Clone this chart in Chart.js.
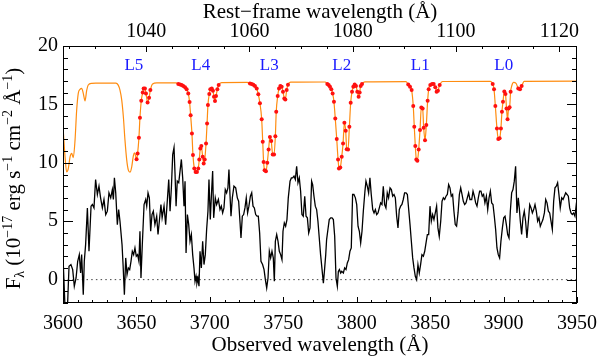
<!DOCTYPE html>
<html><head><meta charset="utf-8">
<script src="https://cdn.jsdelivr.net/npm/chart.js@4.4.1/dist/chart.umd.min.js"></script>
<style>html,body{margin:0;padding:0;background:#fff}#wrap{width:598px;height:358px;position:relative}</style>
</head><body><div id="wrap"><canvas id="c"></canvas></div>
<script>
// ---- observed spectrum (black) ----
const specWave = [3600.0,3601.4,3603.0,3604.1,3605.4,3606.6,3607.7,3608.9,3610.0,3611.1,3612.0,3612.7,3613.8,3614.5,3615.4,3616.6,3617.7,3619.1,3620.0,3621.1,3622.2,3623.4,3624.5,3625.6,3626.8,3627.9,3629.1,3630.2,3631.3,3632.5,3633.6,3634.3,3635.0,3635.9,3637.0,3637.9,3638.8,3640.2,3640.9,3641.8,3642.7,3643.6,3644.5,3645.4,3646.3,3647.2,3648.1,3649.0,3649.9,3650.8,3651.7,3652.4,3653.1,3654.0,3655.2,3656.3,3657.0,3657.9,3658.8,3659.7,3660.6,3661.5,3662.6,3663.8,3664.7,3665.6,3666.7,3667.5,3668.8,3669.9,3671.0,3672.0,3672.9,3673.8,3674.7,3675.6,3676.3,3677.0,3677.8,3678.8,3679.7,3680.6,3681.5,3682.4,3683.1,3683.8,3684.7,3685.6,3686.5,3687.4,3688.3,3689.2,3689.9,3690.6,3691.2,3691.9,3692.6,3693.3,3694.2,3695.1,3696.0,3696.9,3697.8,3698.7,3699.4,3700.3,3701.2,3701.9,3702.6,3703.7,3704.6,3705.8,3706.9,3707.8,3708.7,3709.6,3710.5,3711.4,3712.3,3713.0,3713.7,3714.4,3715.3,3716.4,3717.6,3718.7,3719.6,3720.5,3721.2,3722.1,3723.0,3723.9,3724.8,3725.7,3726.6,3727.6,3728.5,3729.4,3730.3,3731.2,3732.1,3733.0,3733.9,3734.8,3735.9,3736.9,3737.8,3738.7,3739.6,3740.5,3741.4,3742.3,3743.2,3743.9,3744.6,3745.5,3746.4,3747.3,3748.2,3749.1,3749.8,3750.7,3751.6,3752.5,3753.4,3754.6,3755.5,3756.4,3757.3,3758.2,3759.1,3760.0,3760.9,3761.8,3762.7,3763.6,3764.6,3765.5,3766.4,3767.3,3768.2,3769.3,3770.0,3770.9,3771.8,3772.7,3773.6,3774.5,3775.4,3776.4,3777.3,3778.0,3778.9,3779.5,3780.4,3781.3,3782.3,3783.2,3784.1,3785.0,3785.9,3786.8,3787.5,3788.2,3789.1,3789.8,3790.9,3791.8,3792.7,3793.6,3794.5,3795.4,3796.3,3797.2,3798.1,3799.1,3800.0,3800.9,3801.8,3802.7,3803.6,3804.5,3805.6,3806.3,3807.2,3808.1,3809.0,3809.9,3810.9,3811.8,3812.7,3813.6,3814.5,3815.4,3816.3,3817.2,3818.1,3819.0,3819.9,3820.8,3821.7,3822.7,3823.6,3824.5,3825.4,3826.3,3827.2,3828.1,3829.0,3829.9,3830.8,3831.7,3832.6,3833.6,3834.5,3835.4,3836.3,3837.2,3838.1,3839.0,3839.9,3840.8,3841.7,3842.6,3843.5,3844.4,3845.4,3846.3,3847.2,3848.1,3849.0,3849.9,3850.8,3851.7,3852.6,3853.5,3854.4,3855.3,3856.2,3857.2,3858.1,3859.0,3859.9,3860.8,3861.7,3862.6,3863.5,3864.4,3865.3,3866.2,3867.1,3868.0,3869.0,3869.9,3870.8,3871.7,3872.6,3873.5,3874.4,3875.3,3876.2,3877.1,3878.3,3879.2,3880.1,3881.0,3881.9,3882.8,3883.7,3884.6,3885.5,3886.4,3887.3,3888.3,3889.2,3890.1,3891.0,3891.9,3892.8,3893.7,3894.6,3895.5,3896.4,3897.3,3898.2,3899.2,3900.1,3901.0,3901.9,3902.8,3903.7,3904.6,3905.5,3906.4,3907.3,3908.2,3909.1,3910.0,3910.7,3911.4,3912.3,3913.2,3914.1,3915.0,3915.9,3916.9,3917.8,3918.7,3919.6,3920.5,3921.4,3922.3,3923.2,3924.1,3925.0,3925.9,3926.8,3927.8,3928.7,3929.6,3930.5,3931.4,3932.3,3933.2,3934.1,3935.0,3935.9,3936.8,3937.7,3938.6,3939.6,3940.5,3941.4,3942.3,3943.2,3944.1,3945.0,3945.9,3946.8,3947.7,3948.6,3949.5,3950.0];
const specFlux = [2.0,-2.5,-2.5,1.14,1.29,0.86,-0.57,0.14,1.57,2.14,0.57,2.14,-1.29,1.57,3.0,6.14,2.43,6.29,6.43,6.14,8.57,7.29,8.0,7.0,6.14,6.86,5.57,5.86,7.43,7.0,7.71,6.86,8.71,7.43,4.71,6.0,5.0,3.0,1.29,-1.29,1.86,0.43,1.0,0.86,1.57,2.43,2.14,2.71,2.0,2.14,1.57,4.14,0.14,3.0,6.43,6.86,6.29,7.43,7.0,4.14,5.57,5.86,4.71,5.43,3.86,5.0,6.43,5.3,6.3,4.71,6.71,8.57,5.86,7.86,10.7,11.3,9.0,6.29,8.43,8.29,9.29,10.29,8.71,6.29,8.43,2.29,5.57,4.71,3.29,3.86,2.14,1.0,-0.14,0.29,-0.29,0.14,-0.57,2.43,1.0,3.29,1.29,2.14,4.29,5.86,8.57,5.14,7.57,9.29,5.29,7.0,6.43,6.86,6.0,6.29,5.71,6.14,7.71,7.43,7.86,9.43,7.29,5.43,7.0,8.0,7.86,7.0,6.71,5.0,3.57,5.43,5.57,6.14,7.0,5.71,6.29,7.14,7.43,6.29,6.14,5.57,5.43,5.43,4.0,1.57,1.29,0.86,0.0,-0.71,0.14,2.43,1.86,2.43,1.86,-0.14,3.29,3.86,3.29,2.43,2.14,1.71,4.14,4.86,4.57,5.14,7.0,8.43,8.71,8.71,8.86,8.57,9.71,8.29,8.71,7.57,5.57,5.43,7.14,5.43,5.29,4.0,4.43,8.43,8.14,7.14,6.29,6.0,5.0,3.57,2.14,0.86,-0.3,0.71,2.14,3.43,4.29,5.14,5.29,5.29,5.14,3.71,0.14,-0.57,0.71,0.86,0.57,0.71,0.57,1.0,0.86,1.43,1.71,2.43,2.71,7.29,7.29,7.0,6.43,4.57,4.14,3.14,4.14,5.86,7.57,8.43,8.0,7.43,8.71,7.29,6.0,5.71,6.0,5.57,5.71,6.14,6.57,6.43,8.0,6.43,6.14,7.43,7.0,7.86,7.71,7.14,7.29,7.0,5.43,4.43,6.0,6.29,6.43,6.86,7.43,7.43,7.29,6.0,4.71,3.29,1.86,1.0,0.29,0.0,1.29,0.57,1.29,2.14,2.0,2.43,3.14,3.86,3.86,6.29,5.0,5.57,5.14,5.71,6.29,4.43,3.71,5.0,6.71,7.0,6.86,7.14,7.29,8.14,7.86,7.14,7.29,5.86,4.71,4.57,5.71,7.29,7.86,7.29,6.71,6.43,6.57,7.0,7.43,6.86,6.86,7.57,7.14,6.57,6.29,7.0,7.57,7.57,7.14,7.29,6.57,7.14,6.0,7.0,7.57,6.57,6.43,5.43,4.29,2.71,2.14,1.86,3.29,4.43,5.29,5.43,4.71,3.86,3.57,5.86,7.43,7.71,8.43,9.71,5.71,7.0,6.14,5.0,3.86,5.29,5.86,5.0,3.57,5.0,6.43,6.14,5.71,6.0,6.43,5.86,5.0,5.29,4.57,4.86,5.14,5.71,6.86,6.57,5.86,5.71,5.0,4.29,6.71,7.86,8.0,8.29,7.29,6.14,7.0,6.86,7.14,7.43,7.29,7.14,6.14,5.71,5.57,5.71,5.43,6.43,6.3];

// ---- model (orange line; points not marked) ----
const modelWave = [3600.0,3601.4,3602.5,3603.6,3604.8,3605.9,3607.0,3608.2,3609.3,3610.4,3611.6,3612.7,3613.8,3615.0,3616.1,3617.2,3619.5,3623.0,3636.0,3637.6,3638.8,3640.0,3641.1,3642.2,3643.4,3644.5,3645.6,3646.8,3647.9,3648.7,3649.4,3661.0,3664.0,3677.0,3708.0,3725.5,3755.0,3778.5,3805.5,3833.5,3858.5,3891.0,3905.6,3906.8,3908.5,3914.0,3950.0];
const modelFlux = [13.1,10.5,9.22,9.5,10.5,10.8,10.45,11.94,14.5,15.95,16.29,16.37,15.95,15.31,16.17,16.66,16.8,16.82,16.83,16.65,16.23,15.37,13.94,11.94,10.23,9.37,9.2,9.66,10.6,10.85,10.6,16.75,16.84,16.85,16.87,16.88,16.9,16.92,16.93,16.95,16.96,16.97,16.6,16.88,16.8,16.98,17.0];

// ---- fitted pixels (red dots, on the model) ----
const fitWave = [3650.1,3650.8,3651.7,3652.4,3653.3,3654.3,3654.9,3655.8,3656.5,3657.6,3658.6,3659.5,
 3678.5,3679.7,3680.8,3681.9,3683.1,3684.2,3685.3,3686.2,3686.9,3687.8,3688.5,3689.4,3690.3,3691.2,3692.1,3692.8,3693.5,3694.2,3695.1,3695.8,3696.5,3697.4,3698.1,3698.7,3699.6,3700.3,3701.3,3702.1,3702.8,3703.5,3704.2,3705.1,3706.0,
 3727.3,3728.5,3729.6,3730.7,3731.9,3733.0,3734.1,3735.3,3736.0,3736.6,3737.3,3738.2,3739.1,3740.0,3740.9,3741.8,3742.8,3743.7,3744.6,3745.2,3746.2,3747.1,3748.0,3748.9,3749.8,3750.7,3751.4,3752.3,3753.2,
 3780.0,3780.9,3781.8,3782.7,3783.6,3784.5,3785.4,3786.4,3787.3,3787.9,3788.8,3789.8,3790.7,3791.6,3792.5,3793.2,3794.1,3795.0,3795.9,3796.8,3797.7,3798.6,3799.5,3800.4,3801.3,3802.0,3802.7,3803.6,
 3835.1,3836.3,3837.4,3838.5,3839.2,3839.9,3840.6,3841.3,3842.2,3843.1,3844.0,3844.9,3845.6,3846.5,3847.4,3848.3,3849.0,3850.1,3851.3,3852.4,3853.5,3854.4,3855.3,3856.5,
 3892.6,3893.5,3894.4,3895.5,3896.4,3897.3,3898.2,3898.9,3899.6,3900.5,3901.3,3902.0,3902.7,3903.4,3904.1,3904.8,3910.0,3911.2,3912.3];
const fitFlux = [10.3,10.8,12.14,13.85,15.31,16.03,16.37,16.37,15.94,15.17,15.57,16.23,
 16.74,16.71,16.66,16.57,16.46,16.29,15.94,15.2,14.08,12.52,10.66,9.52,9.22,9.22,9.52,10.29,11.23,11.43,10.51,9.94,10.29,11.66,13.37,14.94,15.89,16.29,16.37,16.17,15.66,15.29,15.71,16.29,16.66,
 16.8,16.74,16.69,16.57,16.37,15.86,15.09,13.72,11.8,10.08,9.37,9.28,10.0,11.14,12.22,11.86,10.72,10.72,12.28,14.37,15.71,16.37,16.57,16.51,16.08,15.51,15.43,16.23,16.69,
 16.74,16.66,16.51,16.29,15.94,15.23,13.8,12.03,10.29,9.52,9.6,10.51,11.66,13.43,12.74,11.17,11.14,13.09,15.14,16.08,16.51,16.71,16.57,16.08,15.66,16.03,16.57,16.74,
 16.71,16.51,16.23,14.86,13.08,11.43,10.29,10.17,11.14,12.8,14.74,14.66,13.0,11.94,13.23,15.31,16.29,16.66,16.74,16.74,16.46,16.08,16.17,16.66,
 16.74,16.29,14.86,12.94,12.03,12.1,12.94,14.37,15.23,16.1,15.9,14.66,13.72,14.66,14.75,16.08,16.37,16.29,16.57];

// ---- zero level, line labels, ticks ----
const zeroWave = [3600, 3950];
const zeroFlux = [0, 0];
const lineNames = ['L5','L4','L3','L2','L1','L0'];
const lineWave = [3648.3, 3693.8, 3740.4, 3789.8, 3843.3, 3900.1];
const lineFlux = [18.37, 18.37, 18.37, 18.37, 18.37, 18.37];
const obsTicks = [3600, 3650, 3700, 3750, 3800, 3850, 3900, 3950];
const restTicks = [1040, 1060, 1080, 1100, 1120];
const fluxTicks = [0, 5, 10, 15, 20];
const redshift = 2.516;

const FONT = "'Liberation Serif','Times New Roman',serif";
const onePlusZ = 1 + redshift;

const modelPts = modelWave.map((x, i) => ({x, y: modelFlux[i]}))
  .concat(fitWave.map((x, i) => ({x, y: fitFlux[i]})))
  .sort((a, b) => a.x - b.x);

const decor = {
  id: 'decor',
  afterDatasetsDraw(chart) {
    const {ctx, chartArea: a, scales} = chart;
    const L = Math.round(a.left), R = Math.round(a.right), T = Math.round(a.top), B = Math.round(a.bottom);
    ctx.save();
    ctx.strokeStyle = '#000';
    ctx.lineWidth = 1;
    ctx.beginPath();
    for (let v = 3600; v <= 3950; v += 10) {
      const x = Math.round(scales.x.getPixelForValue(v)) + 0.5;
      const len = (v % 50 === 0) ? 6 : 3;
      ctx.moveTo(x, B); ctx.lineTo(x, B - len);
    }
    for (let r = 1025; r <= 1120; r += 5) {
      const x = Math.round(scales.x2.getPixelForValue(r)) + 0.5;
      const len = (r % 20 === 0) ? 6 : 3;
      ctx.moveTo(x, T); ctx.lineTo(x, T + len);
    }
    for (let v = -2; v <= 20; v += 1) {
      const y = Math.round(scales.y.getPixelForValue(v)) + 0.5;
      const len = (v % 5 === 0) ? 10 : 5;
      ctx.moveTo(L, y); ctx.lineTo(L + len, y);
      ctx.moveTo(R, y); ctx.lineTo(R - len, y);
    }
    ctx.stroke();
    ctx.strokeRect(L + 0.5, T + 0.5, R - L - 1, B - T - 1);
    ctx.fillStyle = '#1a1aff';
    ctx.font = `17px ${FONT}`;
    ctx.textAlign = 'center';
    ctx.textBaseline = 'middle';
    lineNames.forEach((n, i) => {
      ctx.fillText(n, scales.x.getPixelForValue(lineWave[i]), scales.y.getPixelForValue(lineFlux[i]));
    });
    const parts = [
      {t: 'F', s: 21, dy: 0}, {t: 'λ', s: 14, dy: 4},
      {t: ' (10', s: 21, dy: 0}, {t: '\u221217', s: 14, dy: -8},
      {t: ' erg s', s: 21, dy: 0}, {t: '\u22121', s: 14, dy: -8},
      {t: ' cm', s: 21, dy: 0}, {t: '\u22122', s: 14, dy: -8},
      {t: ' Å', s: 21, dy: 0}, {t: '\u22121', s: 14, dy: -8},
      {t: ')', s: 21, dy: 0}
    ];
    let total = 0;
    for (const p of parts) { ctx.font = `${p.s}px ${FONT}`; p.w = ctx.measureText(p.t).width; total += p.w; }
    const cy = (T + B) / 2 + 4;
    ctx.translate(20, cy + total / 2);
    ctx.rotate(-Math.PI / 2);
    ctx.fillStyle = '#000';
    ctx.textAlign = 'left';
    ctx.textBaseline = 'alphabetic';
    let cx = 0;
    for (const p of parts) { ctx.font = `${p.s}px ${FONT}`; ctx.fillText(p.t, cx, p.dy); cx += p.w; }
    ctx.restore();
  }
};

const tickFont = {family: FONT, size: 20};
const titleFont = {family: FONT, size: 21};

new Chart(document.getElementById('c'), {
  type: 'line',
  data: {
    datasets: [
      {label: 'fit', data: fitWave.map((x, i) => ({x, y: fitFlux[i]})), showLine: false,
       pointRadius: 2, pointBackgroundColor: '#ff1010', pointBorderWidth: 0, order: 0},
      {label: 'model', data: modelPts, borderColor: '#ff8c10', borderWidth: 1.2, pointRadius: 0,
       cubicInterpolationMode: 'monotone', order: 1},
      {label: 'spectrum', data: specWave.map((x, i) => ({x, y: specFlux[i]})), borderColor: '#000',
       borderWidth: 1.3, pointRadius: 0, tension: 0, order: 2},
      {label: 'zero', data: zeroWave.map((x, i) => ({x, y: zeroFlux[i]})), borderColor: '#444',
       borderWidth: 1, borderDash: [1.5, 3.2], pointRadius: 0, order: 3}
    ]
  },
  options: {
    responsive: true, maintainAspectRatio: false, animation: false, events: [],
    layout: {padding: {left: 0, right: 21, top: 0, bottom: 0}},
    plugins: {legend: {display: false}, tooltip: {enabled: false}},
    scales: {
      x: {
        type: 'linear', position: 'bottom', min: 3600, max: 3950,
        afterBuildTicks: s => { s.ticks = obsTicks.map(v => ({value: v})); },
        afterFit: s => { s.height = 55; s.paddingLeft = 0; s.paddingRight = 0; },
        grid: {display: false, drawTicks: false}, border: {display: false},
        ticks: {autoSkip: false, maxRotation: 0, padding: 9, color: '#000', font: tickFont, callback: v => String(v)},
        title: {display: true, text: 'Observed wavelength (Å)', color: '#000', font: titleFont, padding: {top: 0, bottom: 0}}
      },
      x2: {
        type: 'linear', axis: 'x', position: 'top', min: 3600 / onePlusZ, max: 3950 / onePlusZ,
        afterBuildTicks: s => { s.ticks = restTicks.map(v => ({value: v})); },
        afterFit: s => { s.height = 46; s.paddingLeft = 0; s.paddingRight = 0; },
        grid: {display: false, drawTicks: false}, border: {display: false},
        ticks: {autoSkip: false, maxRotation: 0, padding: 2, color: '#000', font: tickFont, callback: v => String(v)},
        title: {display: true, text: 'Rest\u2212frame wavelength (Å)', color: '#000', font: titleFont, padding: {top: 0, bottom: 0}}
      },
      y: {
        type: 'linear', position: 'left', min: -2, max: 20,
        afterBuildTicks: s => { s.ticks = fluxTicks.map(v => ({value: v})); },
        afterFit: s => { s.width = 63; s.paddingTop = 0; s.paddingBottom = 0; },
        grid: {display: false, drawTicks: false}, border: {display: false},
        ticks: {autoSkip: false, padding: 5, color: '#000', font: tickFont, callback: v => String(v)}
      }
    }
  },
  plugins: [decor]
});
</script>
</body></html>
